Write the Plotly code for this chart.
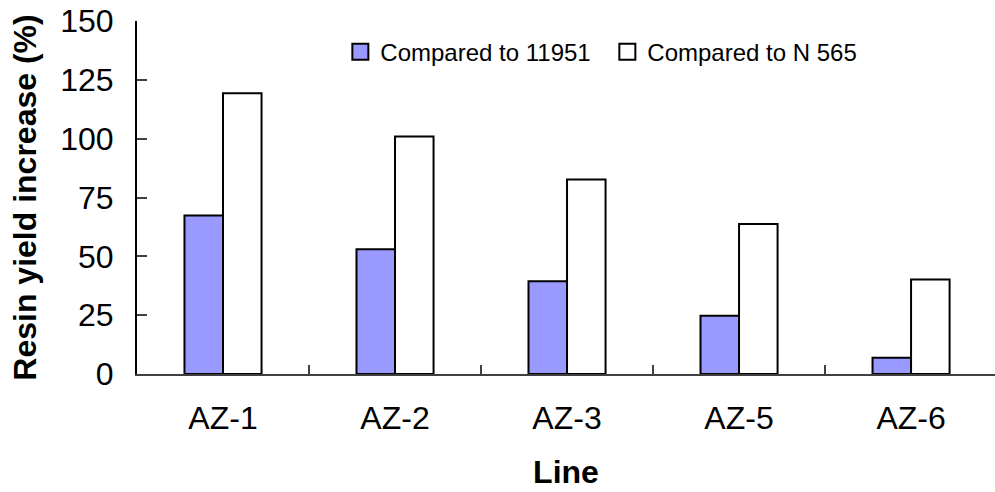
import plotly.graph_objects as go

categories = ["AZ-1", "AZ-2", "AZ-3", "AZ-5", "AZ-6"]
vs_11951 = [67.3, 53.0, 39.4, 24.8, 6.9]
vs_n565 = [119.3, 100.9, 82.7, 63.7, 40.2]
series_names = ["Compared to 11951", "Compared to N 565"]
y_ticks = [0, 25, 50, 75, 100, 125, 150]

FONT = "Arial, Liberation Sans, sans-serif"
BLUE = "#9999FF"

fig = go.Figure()
fig.add_trace(go.Bar(x=categories, y=vs_11951, name=series_names[0],
                     marker=dict(color=BLUE, line=dict(color="black", width=2)),
                     showlegend=False))
fig.add_trace(go.Bar(x=categories, y=vs_n565, name=series_names[1],
                     marker=dict(color="white", line=dict(color="black", width=2)),
                     showlegend=False))
# legend proxies
for name, col in zip(series_names, [BLUE, "white"]):
    fig.add_trace(go.Scatter(x=[None], y=[None], mode="markers", name=name,
                             marker=dict(symbol="square", size=16, color=col,
                                         line=dict(color="black", width=2))))

fig.update_layout(
    width=995, height=492,
    margin=dict(l=137, r=0, t=21, b=118),
    paper_bgcolor="white", plot_bgcolor="white",
    barmode="group", bargap=0.552, bargroupgap=0,
    font=dict(family=FONT, color="black"),
    legend=dict(orientation="h", x=0.237, xanchor="left", y=0.912, yanchor="middle",
                font=dict(size=24, family=FONT), bgcolor="rgba(0,0,0,0)",
                entrywidth=222, entrywidthmode="pixels", tracegroupgap=0),
    xaxis=dict(range=[-0.5, 4.488], tickson="boundaries", ticks="inside", ticklen=9,
               tickcolor="#404040", tickwidth=1.5,
               showline=True, linecolor="#404040", linewidth=2,
               tickfont=dict(size=32, family=FONT), ticklabelstandoff=15,
               title=dict(text="<b>Line</b>", font=dict(size=32, family=FONT), standoff=25),
               showgrid=False, zeroline=False),
    yaxis=dict(range=[0, 150], tickvals=y_ticks, ticks="inside", ticklen=10,
               tickcolor="#404040", tickwidth=1.5,
               showline=True, linecolor="black", linewidth=2,
               tickfont=dict(size=32, family=FONT), ticklabelstandoff=15,
               title=dict(text="<b>Resin yield increase (%)</b>", font=dict(size=32, family=FONT), standoff=14),
               showgrid=False, zeroline=False),
)

fig.write_html("out.html")
